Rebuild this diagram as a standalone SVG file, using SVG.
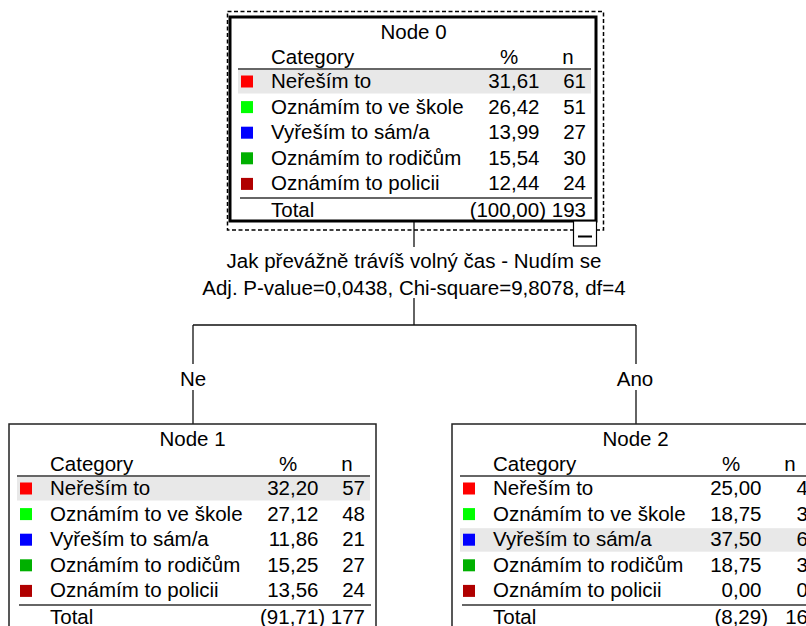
<svg xmlns="http://www.w3.org/2000/svg" width="806" height="626" viewBox="0 0 806 626">
<style>
text{font-family:"Liberation Sans",Arial,sans-serif;font-size:20.5px;fill:#000}
.c{text-anchor:middle}
.r{text-anchor:end}
.box{fill:#fff;stroke:#222;stroke-width:1.5}
.box0{fill:#fff;stroke:#000;stroke-width:3}
.hl{fill:#e8e8e8}
.rule{stroke:#333;stroke-width:1.6}
.conn{stroke:#111;stroke-width:1.3;fill:none}
.sel{fill:none;stroke:#000;stroke-width:1.5;stroke-dasharray:4,2.5}
.s1{fill:#ff0000}.s2{fill:#00ff00}.s3{fill:#0000ff}.s4{fill:#00b000}.s5{fill:#b00000}
</style>
<g id="connectors">
<path class="conn" d="M414,221V247M414,298V325M193,325H636M193,325V364M193,390V424M636,325V364M636,390V424"/>
<text class="c" x="414" y="268">Jak převážně trávíš volný čas - Nudím se</text>
<text class="c" x="414" y="295">Adj. P-value=0,0438, Chi-square=9,8078, df=4</text>
<text class="c" x="193" y="386">Ne</text>
<text class="c" x="635" y="386">Ano</text>
</g>
<g id="node0">
<rect class="sel" x="227.5" y="11.5" width="376" height="218.5"/>
<g transform="translate(230,17)">
<rect class="box0" x="0" y="0" width="366" height="204"/>
<rect class="hl" x="8" y="53" width="353" height="23.5"/>
<text class="c" x="183.5" y="21.5">Node 0</text>
<text x="41" y="47">Category</text><text class="c" x="279" y="47">%</text><text class="c" x="338" y="47">n</text>
<line class="rule" x1="8" y1="52" x2="361" y2="52"/>
<rect class="s1" x="11" y="58.5" width="12" height="12"/><text x="41" y="71">Neřeším to</text><text class="r" x="309.5" y="71">31,61</text><text class="r" x="356" y="71">61</text>
<rect class="s2" x="11" y="84.1" width="12" height="12"/><text x="41" y="96.6">Oznámím to ve škole</text><text class="r" x="309.5" y="96.6">26,42</text><text class="r" x="356" y="96.6">51</text>
<rect class="s3" x="11" y="109.7" width="12" height="12"/><text x="41" y="122.2">Vyřeším to sám/a</text><text class="r" x="309.5" y="122.2">13,99</text><text class="r" x="356" y="122.2">27</text>
<rect class="s4" x="11" y="135.3" width="12" height="12"/><text x="41" y="147.8">Oznámím to rodičům</text><text class="r" x="309.5" y="147.8">15,54</text><text class="r" x="356" y="147.8">30</text>
<rect class="s5" x="11" y="160.9" width="12" height="12"/><text x="41" y="173.4">Oznámím to policii</text><text class="r" x="309.5" y="173.4">12,44</text><text class="r" x="356" y="173.4">24</text>
<line class="rule" x1="10" y1="181" x2="362" y2="181"/>
<text x="41" y="199.5">Total</text><text class="r" x="316" y="199.5">(100,00)</text><text class="r" x="356" y="199.5">193</text>
</g>
<rect x="573.5" y="221" width="23" height="25" fill="#fff" stroke="#000" stroke-width="1.2"/>
<line x1="578" y1="236.5" x2="592" y2="236.5" stroke="#000" stroke-width="2"/>
</g>
<g id="node1" transform="translate(9,424)">
<rect class="box" x="0" y="0" width="367" height="204"/>
<rect class="hl" x="8" y="53" width="353" height="23.5"/>
<text class="c" x="183.5" y="21.5">Node 1</text>
<text x="41" y="47">Category</text><text class="c" x="279" y="47">%</text><text class="c" x="338" y="47">n</text>
<line class="rule" x1="8" y1="52" x2="361" y2="52"/>
<rect class="s1" x="11" y="58.5" width="12" height="12"/><text x="41" y="71">Neřeším to</text><text class="r" x="309.5" y="71">32,20</text><text class="r" x="356" y="71">57</text>
<rect class="s2" x="11" y="84.1" width="12" height="12"/><text x="41" y="96.6">Oznámím to ve škole</text><text class="r" x="309.5" y="96.6">27,12</text><text class="r" x="356" y="96.6">48</text>
<rect class="s3" x="11" y="109.7" width="12" height="12"/><text x="41" y="122.2">Vyřeším to sám/a</text><text class="r" x="309.5" y="122.2">11,86</text><text class="r" x="356" y="122.2">21</text>
<rect class="s4" x="11" y="135.3" width="12" height="12"/><text x="41" y="147.8">Oznámím to rodičům</text><text class="r" x="309.5" y="147.8">15,25</text><text class="r" x="356" y="147.8">27</text>
<rect class="s5" x="11" y="160.9" width="12" height="12"/><text x="41" y="173.4">Oznámím to policii</text><text class="r" x="309.5" y="173.4">13,56</text><text class="r" x="356" y="173.4">24</text>
<line class="rule" x1="10" y1="181" x2="362" y2="181"/>
<text x="41" y="199.5">Total</text><text class="r" x="316" y="199.5">(91,71)</text><text class="r" x="356" y="199.5">177</text>
</g>
<g id="node2" transform="translate(452,424)">
<rect class="box" x="0" y="0" width="367" height="204"/>
<rect class="hl" x="8" y="104.2" width="353" height="23.5"/>
<text class="c" x="183.5" y="21.5">Node 2</text>
<text x="41" y="47">Category</text><text class="c" x="279" y="47">%</text><text class="c" x="338" y="47">n</text>
<line class="rule" x1="8" y1="52" x2="361" y2="52"/>
<rect class="s1" x="11" y="58.5" width="12" height="12"/><text x="41" y="71">Neřeším to</text><text class="r" x="309.5" y="71">25,00</text><text class="r" x="356" y="71">4</text>
<rect class="s2" x="11" y="84.1" width="12" height="12"/><text x="41" y="96.6">Oznámím to ve škole</text><text class="r" x="309.5" y="96.6">18,75</text><text class="r" x="356" y="96.6">3</text>
<rect class="s3" x="11" y="109.7" width="12" height="12"/><text x="41" y="122.2">Vyřeším to sám/a</text><text class="r" x="309.5" y="122.2">37,50</text><text class="r" x="356" y="122.2">6</text>
<rect class="s4" x="11" y="135.3" width="12" height="12"/><text x="41" y="147.8">Oznámím to rodičům</text><text class="r" x="309.5" y="147.8">18,75</text><text class="r" x="356" y="147.8">3</text>
<rect class="s5" x="11" y="160.9" width="12" height="12"/><text x="41" y="173.4">Oznámím to policii</text><text class="r" x="309.5" y="173.4">0,00</text><text class="r" x="356" y="173.4">0</text>
<line class="rule" x1="10" y1="181" x2="362" y2="181"/>
<text x="41" y="199.5">Total</text><text class="r" x="316" y="199.5">(8,29)</text><text class="r" x="356" y="199.5">16</text>
</g>
</svg>
